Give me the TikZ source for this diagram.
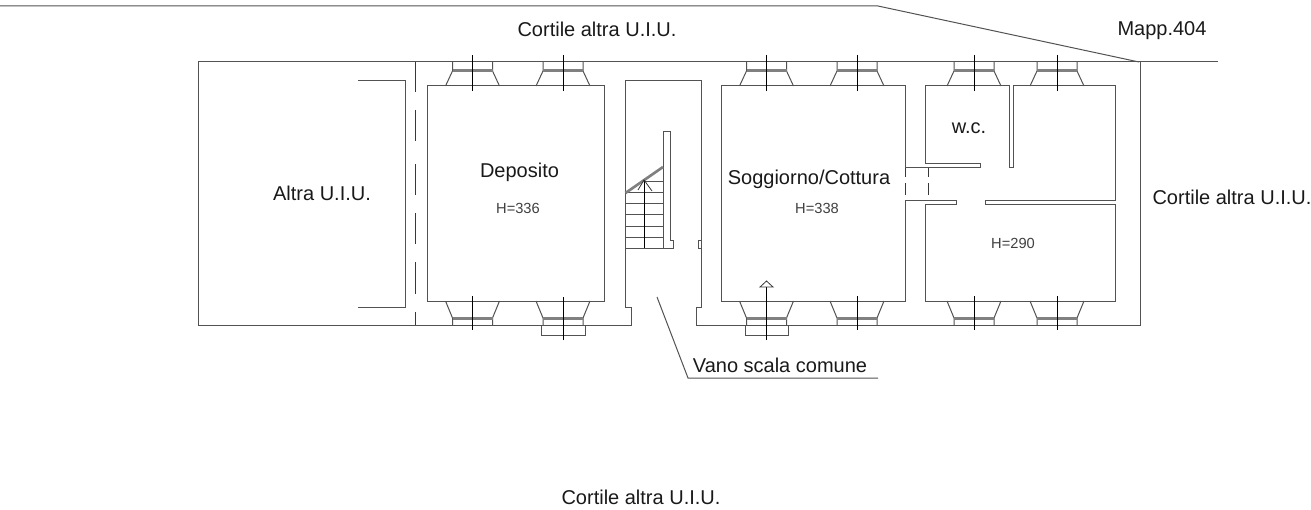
\documentclass[tikz,border=0pt]{standalone}
\usepackage{fontspec}
\setmainfont{Liberation Sans}
\tikzset{
 wall/.style={draw=black!68,line width=0.75pt},
 thin/.style={draw=black!78,line width=0.6pt},
 label/.style={inner sep=0pt,font=\fontsize{15}{18}\selectfont,text=black!90},
 small/.style={inner sep=0pt,font=\fontsize{11}{14}\selectfont,text=black!75},
 wintop/.pic={
  \draw[wall] (-20,0) -- (-20,9) -- (-27,24);
  \draw[wall] (20,0) -- (20,9) -- (27,24);
  \fill[black!50] (-20,7.5) rectangle (20,10.5);
 },
 winbot/.pic={
  \draw[wall] (-20,0) -- (-20,-7) -- (-27,-24);
  \draw[wall] (20,0) -- (20,-7) -- (27,-24);
  \fill[black!50] (-20,-8.5) rectangle (20,-5.5);
 },
 axis/.style={draw=black,line width=0.6pt},
}
\begin{document}
\begin{tikzpicture}[x=0.75pt,y=-0.75pt]
\useasboundingbox (0,0) rectangle (1311,510);
% site lines
\draw[wall] (0,6) -- (878,6) -- (1139,62);
\draw[wall] (198,62) -- (1218,62);
% outer walls
\draw[wall] (198,62) -- (198,325) -- (631,325) -- (631,307) -- (625.5,307) -- (625.5,81) -- (701.5,81) -- (701.5,307) -- (696,307) -- (696,325) -- (1140,325) -- (1140,62);
% neighbouring unit
\draw[wall] (358,81) -- (405,81) -- (405,307) -- (358,307);
% dashed party wall
\foreach \a/\b in {62/92,110/141,164/195,213/244,262/294,312/325}
  \draw[thin] (415.7,\a) -- (415.7,\b);
% rooms
\draw[wall] (427,86) rectangle (604,301);
\draw[wall] (905,168) -- (905,86) -- (721.5,86) -- (721.5,301) -- (905,301) -- (905,200) -- (956,200) -- (956,204.3) -- (925,204.3) -- (925,301) -- (1115.7,301) -- (1115.7,204.3) -- (985.7,204.3) -- (985.7,200) -- (1115.7,200) -- (1115.7,86) -- (1013.7,86) -- (1013.7,167.7) -- (1009.7,167.7) -- (1009.7,86) -- (925,86) -- (925,163.7) -- (980,163.7) -- (980,167.7) -- (905,167.7);
\foreach \a/\b in {168/177,183/195}{
  \draw[thin] (905,\a) -- (905,\b);
  \draw[thin] (928,\a) -- (928,\b);
}
% stairs
\draw[wall] (663,248) -- (663,132) -- (670,132) -- (670,240) -- (673,240) -- (673,248) -- (625.5,248);
\foreach \y/\x in {181/644,192/625.5,203/625.5,214/625.5,226/625.5,237/625.5}
  \draw[wall] (\x,\y) -- (663,\y);
\draw[draw=black!50,line width=2pt] (625.5,193) -- (663,167);
\draw[axis] (644,248) -- (644,180);
\draw[thin] (638,190) -- (644,180) -- (652,191);
\draw[wall] (701.5,240) -- (698,240) -- (698,248) -- (701.5,248);
% windows
\foreach \c in {472.5,563,766.5,857,974,1057}{
  \pic at (\c,62) {wintop};
  \draw[axis] (\c,55) -- (\c,91);
  \pic at (\c,325) {winbot};
}
\foreach \c in {472.5,857,974,1057}
  \draw[axis] (\c,296) -- (\c,330);
\foreach \c in {563,766.5}
  \draw[wall] (\c-21.5,325) -- (\c-21.5,335) -- (\c+22,335) -- (\c+22,325);
\draw[axis] (563,297) -- (563,340);
\draw[axis] (766.5,287) -- (766.5,340);
\draw[thin] (766.5,281) -- (760,287) -- (773,287) -- cycle;
% texts
\node[label] (c1) at (597,29) {Cortile altra U.I.U.};
\node[label] (m) at (1162,31) {Mapp.404};
\node[label] (a) at (322,193) {Altra U.I.U.};
\node[label] (d) at (519.5,172.5) {Deposito};
\node[small] (h1) at (518,208) {H=336};
\node[label] (s) at (809,179) {Soggiorno/Cottura};
\node[small] (h2) at (817,208) {H=338};
\node[label] (w) at (969,128) {w.c.};
\node[small] (h3) at (1013,243) {H=290};
\node[label] (c2) at (1232,197) {Cortile altra U.I.U.};
\node[label] (v) at (780,365) {Vano scala comune};
\node[label] (c3) at (641,497) {Cortile altra U.I.U.};
% leader
\coordinate (vs) at (657,297);
\draw[wall] (vs) -- (688,378) -- (878,378);
\end{tikzpicture}
\end{document}
